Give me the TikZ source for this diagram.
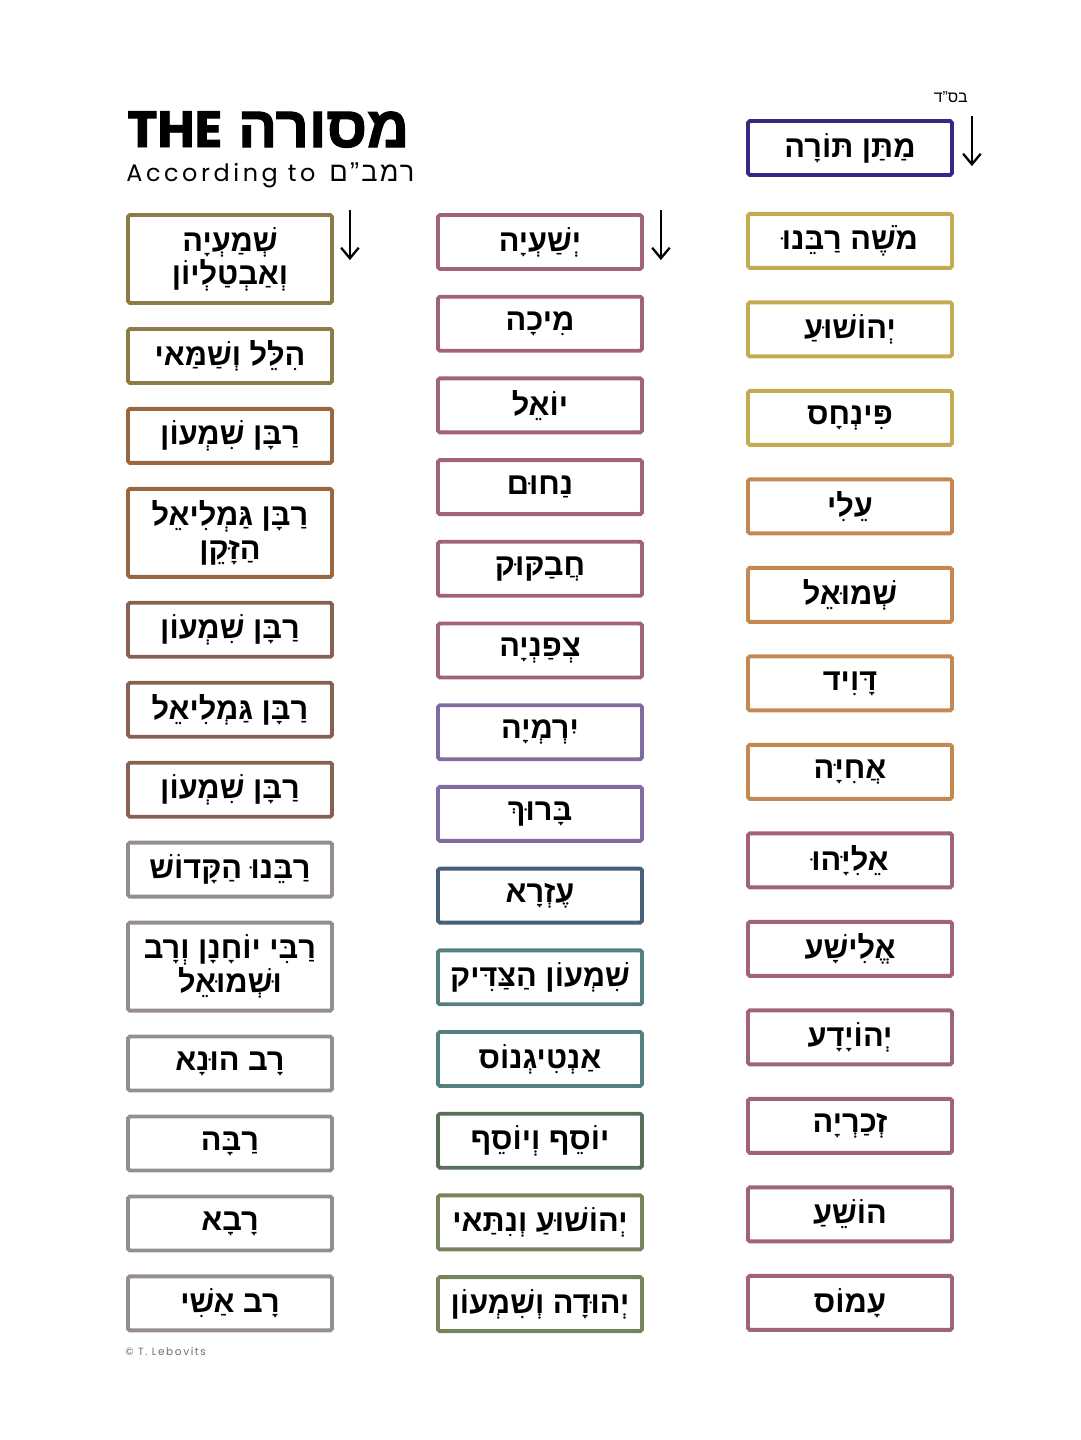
\documentclass[tikz,border=0pt]{standalone}
\usepackage{fontspec}
\setmainfont{Poppins}
\newfontfamily\hebfont[Script=Hebrew]{Liberation Sans}
\newfontfamily\hebspaced[Script=Hebrew, LetterSpace=8]{Liberation Sans}
\newfontfamily\hebheadfont[Script=Hebrew, BoldFeatures={FakeBold=2}]{Liberation Sans}
\newfontfamily\headfont[BoldFeatures={FakeBold=1.5}]{Poppins}
\newfontfamily\spacedfont[LetterSpace=15]{Poppins}
\TeXXeTstate=1
\newcommand{\rtl}[1]{\beginR#1\endR}
\usetikzlibrary{positioning,arrows.meta}
\definecolor{sinaiblue}{RGB}{55,40,135}
\definecolor{gold}{RGB}{196,170,82}
\definecolor{tan}{RGB}{196,136,82}
\definecolor{mauve}{RGB}{160,98,125}
\definecolor{violet}{RGB}{128,108,158}
\definecolor{slate}{RGB}{72,95,122}
\definecolor{teal}{RGB}{85,128,128}
\definecolor{darkgreen}{RGB}{88,112,90}
\definecolor{olivegreen}{RGB}{118,132,92}
\definecolor{olive}{RGB}{140,122,72}
\definecolor{brownA}{RGB}{150,105,68}
\definecolor{brownB}{RGB}{135,98,82}
\definecolor{stone}{RGB}{150,142,142}
\definecolor{creditgray}{RGB}{110,110,110}
\tikzstyle{block} = [rectangle, draw, line width=2.2pt, rounded corners=1pt,
    minimum width=4.08cm, minimum height=1.08cm, inner sep=0pt, align=center,
    font=\hebfont\bfseries\fontsize{17.5}{19}\selectfont]
\tikzstyle{tall} = [minimum height=1.76cm]
\tikzstyle{line} = [draw, line width=1.3pt, -{Straight Barb[length=6pt,width=10pt]}]

\begin{document}
\begin{tikzpicture}[x=0.02cm, y=-0.02cm]
  \useasboundingbox (0,0) rectangle (1080,1440);
  % heading
  \node [anchor=base west, inner sep=0pt] (title) at (127,147)
    {{\headfont\bfseries\fontsize{29}{29}\selectfont THE}\hspace{9pt}{\hebheadfont\bfseries\fontsize{33}{33}\selectfont\rtl{מסורה}}};
  \node [anchor=base west, inner sep=0pt] (subtitle) at (126,181)
    {{\spacedfont\fontsize{13.6}{13.6}\selectfont According to}\hspace{8pt}{\hebspaced\fontsize{15.5}{15.5}\selectfont\rtl{רמב”ם}}};
  \node [anchor=base east, inner sep=0pt, font=\hebfont\fontsize{9}{9}\selectfont] (bsd) at (968,102) {\rtl{בס”ד}};
  \node [anchor=base west, inner sep=0pt, text=creditgray, font=\spacedfont\fontsize{6}{6}\selectfont] (credit) at (125,1355) {© T. Lebovits};

  % right column
  \node [block, draw=sinaiblue] (matan) at (850,148) {\rtl{מַתַּן תּוֹרָה}};
  \node [block, draw=gold, below=0.7cm of matan] (moshe) {\rtl{מֹשֶׁה רַבֵּנוּ}};
  \begin{scope}[node distance=0.613cm]
  \node [block, draw=gold, below=of moshe] (yehoshua) {\rtl{יְהוֹשׁוּעַ}};
  \node [block, draw=gold, below=of yehoshua] (pinchas) {\rtl{פִּינְחָס}};
  \node [block, draw=tan, below=of pinchas] (eli) {\rtl{עֵלִי}};
  \node [block, draw=tan, below=of eli] (shmuel) {\rtl{שְׁמוּאֵל}};
  \node [block, draw=tan, below=of shmuel] (david) {\rtl{דָּוִיד}};
  \node [block, draw=tan, below=of david] (achiya) {\rtl{אֲחִיָּה}};
  \node [block, draw=mauve, below=of achiya] (eliyahu) {\rtl{אֵלִיָּהוּ}};
  \node [block, draw=mauve, below=of eliyahu] (elisha) {\rtl{אֱלִישָׁע}};
  \node [block, draw=mauve, below=of elisha] (yehoyada) {\rtl{יְהוֹיָדָע}};
  \node [block, draw=mauve, below=of yehoyada] (zecharya) {\rtl{זְכַרְיָה}};
  \node [block, draw=mauve, below=of zecharya] (hoshea) {\rtl{הוֹשֵׁעַ}};
  \node [block, draw=mauve, below=of hoshea] (amos) {\rtl{עָמוֹס}};
  \end{scope}

  % middle column
  \node [block, draw=mauve] (yeshaya) at (540,242) {\rtl{יְשַׁעְיָה}};
  \begin{scope}[node distance=0.477cm]
  \node [block, draw=mauve, below=of yeshaya] (micha) {\rtl{מִיכָה}};
  \node [block, draw=mauve, below=of micha] (yoel) {\rtl{יוֹאֵל}};
  \node [block, draw=mauve, below=of yoel] (nachum) {\rtl{נַחוּם}};
  \node [block, draw=mauve, below=of nachum] (chavakuk) {\rtl{חֲבַקּוּק}};
  \node [block, draw=mauve, below=of chavakuk] (tzefanya) {\rtl{צְפַנְיָה}};
  \node [block, draw=violet, below=of tzefanya] (yirmeya) {\rtl{יִרְמְיָה}};
  \node [block, draw=violet, below=of yirmeya] (baruch) {\rtl{בָּרוּךְ}};
  \node [block, draw=slate, below=of baruch] (ezra) {\rtl{עֶזְרָא}};
  \node [block, draw=teal, below=of ezra] (shimontz) {\rtl{שִׁמְעוֹן הַצַּדִּיק}};
  \node [block, draw=teal, below=of shimontz] (antigonus) {\rtl{אַנְטִיגְנוֹס}};
  \node [block, draw=darkgreen, below=of antigonus] (yosef) {\rtl{יוֹסֵף וְיוֹסֵף}};
  \node [block, draw=olivegreen, below=of yosef] (nitai) {\rtl{יְהוֹשׁוּעַ וְנִתַּאי}};
  \node [block, draw=olivegreen, below=of nitai] (yehuda) {\rtl{יְהוּדָה וְשִׁמְעוֹן}};
  \end{scope}

  % left column
  \node [block, tall, draw=olive] (shmaya) at (230,259) {\rtl{שְׁמַעְיָה}\\\rtl{וְאַבְטַלְיוֹן}};
  \begin{scope}[node distance=0.442cm]
  \node [block, draw=olive, below=of shmaya] (hillel) {\rtl{הִלֵּל וְשַׁמַּאי}};
  \node [block, draw=brownA, below=of hillel] (shimon1) {\rtl{רַבָּן שִׁמְעוֹן}};
  \node [block, tall, draw=brownA, below=of shimon1] (gamliel1) {\rtl{רַבָּן גַּמְלִיאֵל}\\\rtl{הַזָּקֵן}};
  \node [block, draw=brownB, below=of gamliel1] (shimon2) {\rtl{רַבָּן שִׁמְעוֹן}};
  \node [block, draw=brownB, below=of shimon2] (gamliel2) {\rtl{רַבָּן גַּמְלִיאֵל}};
  \node [block, draw=brownB, below=of gamliel2] (shimon3) {\rtl{רַבָּן שִׁמְעוֹן}};
  \node [block, draw=stone, below=of shimon3] (rebbi) {\rtl{רַבֵּנוּ הַקָּדוֹשׁ}};
  \node [block, tall, draw=stone, below=of rebbi] (yochanan) {\rtl{רַבִּי יוֹחָנָן וְרָב}\\\rtl{וּשְׁמוּאֵל}};
  \node [block, draw=stone, below=of yochanan] (huna) {\rtl{רָב הוּנָא}};
  \node [block, draw=stone, below=of huna] (rabba) {\rtl{רַבָּה}};
  \node [block, draw=stone, below=of rabba] (rava) {\rtl{רָבָא}};
  \node [block, draw=stone, below=of rava] (ashi) {\rtl{רָב אַשִׁי}};
  \end{scope}

  % reading direction
  \coordinate (matantop) at ([xshift=0.36cm, yshift=0.06cm]matan.north east);
  \coordinate (matanend) at ([xshift=0.36cm, yshift=-0.94cm]matan.north east);
  \path [line] (matantop) -- (matanend);
  \coordinate (yeshayatop) at ([xshift=0.34cm, yshift=0.06cm]yeshaya.north east);
  \coordinate (yeshayaend) at ([xshift=0.34cm, yshift=-0.94cm]yeshaya.north east);
  \path [line] (yeshayatop) -- (yeshayaend);
  \coordinate (shmayatop) at ([xshift=0.32cm, yshift=0.06cm]shmaya.north east);
  \coordinate (shmayaend) at ([xshift=0.32cm, yshift=-0.94cm]shmaya.north east);
  \path [line] (shmayatop) -- (shmayaend);
\end{tikzpicture}
\end{document}
